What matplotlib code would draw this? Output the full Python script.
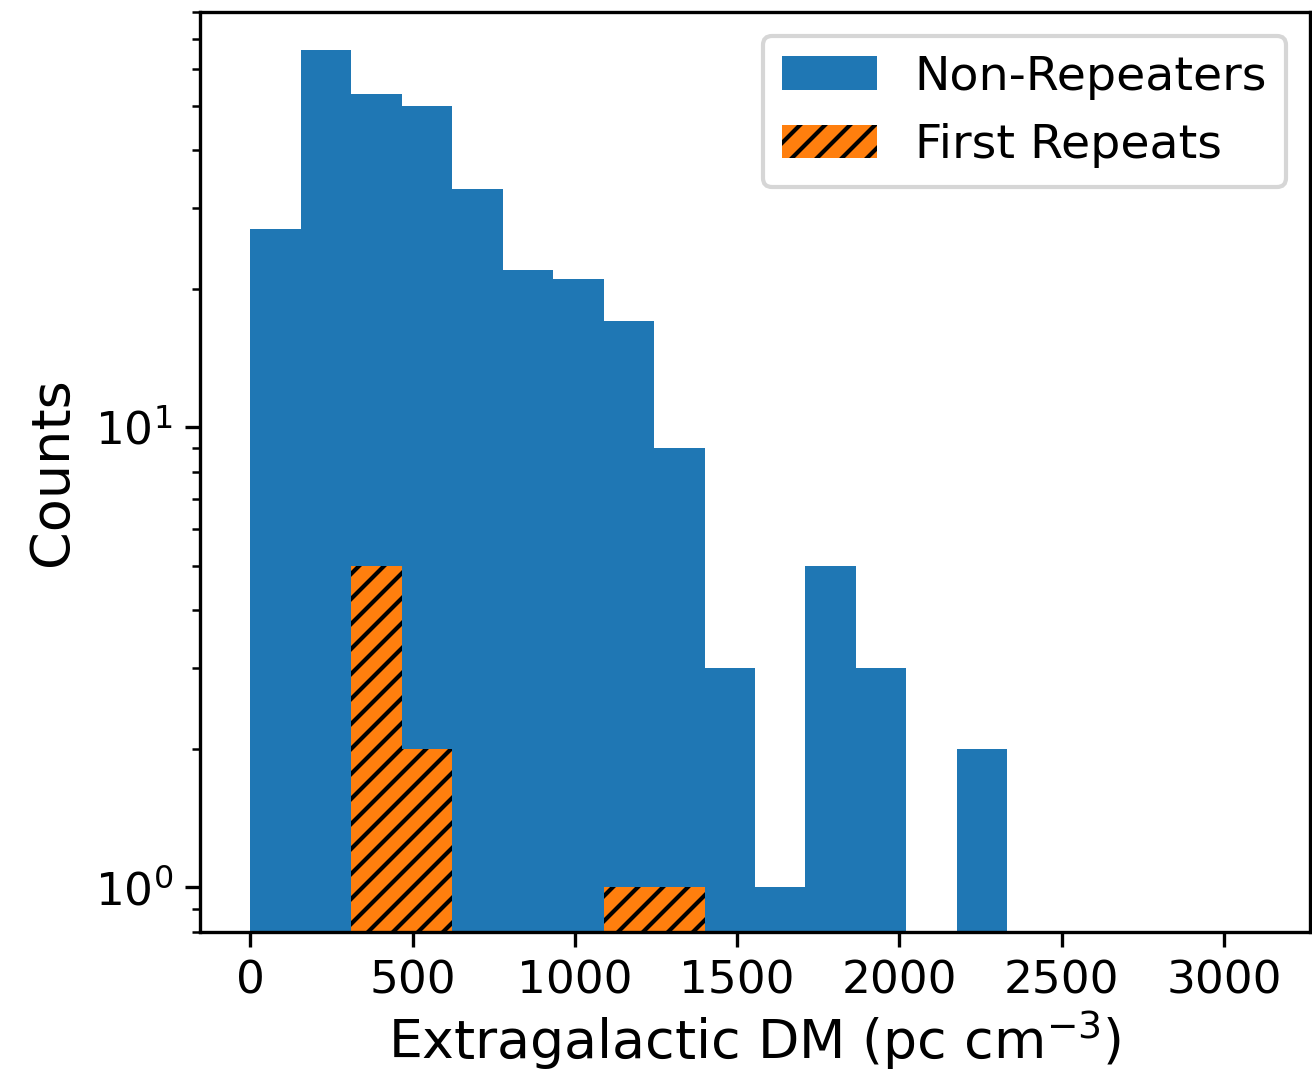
import numpy as np
import matplotlib
matplotlib.use("Agg")
import matplotlib.pyplot as plt

# ── Data ───────────────────────────────────────────────
bin_edges = np.linspace(0, 3110, 21)
non_repeaters = [27, 66, 53, 50, 33, 22, 21, 17, 9, 3, 1, 5, 3, 0, 2, 0, 0, 0, 0, 0]
first_repeats = [0, 0, 5, 2, 0, 0, 0, 1, 1, 0, 0, 0, 0, 0, 0, 0, 0, 0, 0, 0]

bin_centres = 0.5 * (bin_edges[:-1] + bin_edges[1:])

# ── Style ──────────────────────────────────────────────
plt.rcParams["hatch.linewidth"] = 1.0

fig = plt.figure(figsize=(1312 / 300, 1080 / 300), dpi=300)
ax = fig.add_axes([0.1524, 0.137, 0.8461, 0.8519])

ax.hist(bin_centres, bins=bin_edges, weights=non_repeaters,
        color="C0", label="Non-Repeaters")
ax.hist(bin_centres, bins=bin_edges, weights=first_repeats,
        facecolor="C1", edgecolor="k", linewidth=0, hatch="////",
        label="First Repeats")

ax.set_yscale("log")
ax.set_xlim(-155.5, 3265.5)
ax.set_ylim(0.8, 80)

ax.set_xlabel(r"Extragalactic DM (pc cm$^{-3}$)", fontsize=12.9, labelpad=1.5)
ax.set_ylabel("Counts", fontsize=13)
ax.tick_params(axis="both", which="major", labelsize=10.9, pad=3)

ax.legend(fontsize=11.4, loc="upper right")

fig.savefig("out.png", dpi=300)
